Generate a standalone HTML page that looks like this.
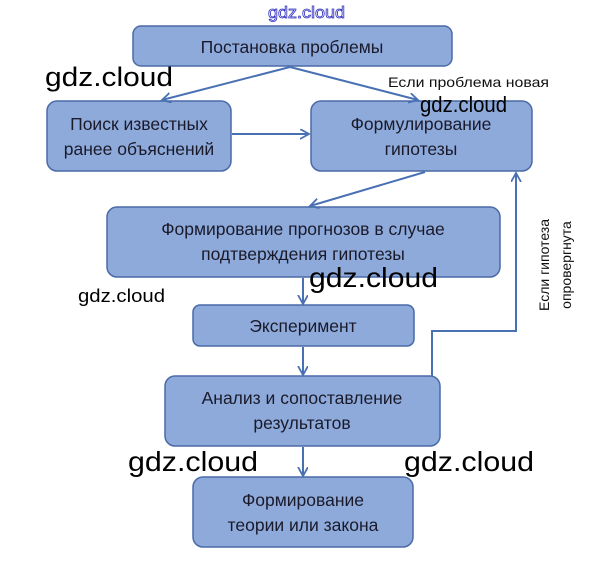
<!DOCTYPE html>
<html><head><meta charset="utf-8"><style>
html,body{margin:0;padding:0;background:#fff;}
svg{display:block;}
.b{fill:#8eaadb;stroke:#4a6aa8;stroke-width:1.5;}
.t{font-family:"Liberation Sans",sans-serif;font-size:17.5px;fill:#1a1a2a;text-anchor:middle;}
.l{stroke:#4a70b4;stroke-width:2;fill:none;}
.w{font-family:"Liberation Sans",sans-serif;fill:#000;}
</style></head><body>
<svg width="612" height="580" viewBox="0 0 612 580" xmlns="http://www.w3.org/2000/svg">
<defs><marker id="a" markerWidth="12" markerHeight="12" refX="9" refY="5" orient="auto" markerUnits="userSpaceOnUse"><path d="M0,0 L9,5 L0,10" fill="none" stroke="#4a70b4" stroke-width="1.8"/></marker></defs>
<text x="268" y="18" font-family="Liberation Sans,sans-serif" font-size="17" fill="#fff" stroke="#3030c0" stroke-width="0.8" textLength="77" lengthAdjust="spacingAndGlyphs">gdz.cloud</text>
<rect class="b" x="133" y="26" width="319" height="40" rx="8"/>
<text class="t" x="292" y="53">Постановка проблемы</text>
<rect class="b" x="47" y="101" width="184" height="70" rx="10"/>
<text class="t" x="139" y="130">Поиск известных</text><text class="t" x="139" y="155">ранее объяснений</text>
<rect class="b" x="311" y="101" width="221" height="70" rx="10"/>
<text class="t" x="421" y="130">Формулирование</text><text class="t" x="421" y="155">гипотезы</text>
<rect class="b" x="107" y="207" width="393" height="70" rx="10"/>
<text class="t" x="303" y="235">Формирование прогнозов в случае</text><text class="t" x="303" y="260">подтверждения гипотезы</text>
<rect class="b" x="193" y="305" width="221" height="41" rx="7"/>
<text class="t" x="303" y="332">Эксперимент</text>
<rect class="b" x="165" y="376" width="275" height="70" rx="10"/>
<text class="t" x="302" y="404">Анализ и сопоставление</text><text class="t" x="302" y="429">результатов</text>
<rect class="b" x="193" y="477" width="220" height="70" rx="10"/>
<text class="t" x="303" y="506">Формирование</text><text class="t" x="303" y="531">теории или закона</text>
<line class="l" x1="290" y1="67" x2="162" y2="100" marker-end="url(#a)"/>
<line class="l" x1="290" y1="67" x2="418" y2="100" marker-end="url(#a)"/>
<line class="l" x1="232" y1="134" x2="309" y2="134" marker-end="url(#a)"/>
<line class="l" x1="425" y1="172" x2="310" y2="206" marker-end="url(#a)"/>
<line class="l" x1="303" y1="278" x2="303" y2="304" marker-end="url(#a)"/>
<line class="l" x1="303" y1="347" x2="303" y2="375" marker-end="url(#a)"/>
<line class="l" x1="303" y1="447" x2="303" y2="476" marker-end="url(#a)"/>
<polyline class="l" points="432,376 432,331 516,331 516,173" marker-end="url(#a)"/>
<text x="388" y="87" font-family="Liberation Sans,sans-serif" font-size="14" fill="#111" textLength="161" lengthAdjust="spacingAndGlyphs">Если проблема новая</text>
<text transform="translate(549,265) rotate(-90)" font-family="Liberation Sans,sans-serif" font-size="14" fill="#111" text-anchor="middle">Если гипотеза</text>
<text transform="translate(571,265) rotate(-90)" font-family="Liberation Sans,sans-serif" font-size="14" fill="#111" text-anchor="middle">опровергнута</text>
<text class="w" x="45" y="86" font-size="27" textLength="128" lengthAdjust="spacingAndGlyphs">gdz.cloud</text>
<text class="w" x="420" y="112" font-size="22" textLength="87" lengthAdjust="spacingAndGlyphs">gdz.cloud</text>
<text class="w" x="309" y="287" font-size="28" textLength="129" lengthAdjust="spacingAndGlyphs">gdz.cloud</text>
<text class="w" x="78" y="302" font-size="18" textLength="87" lengthAdjust="spacingAndGlyphs">gdz.cloud</text>
<text class="w" x="128" y="471" font-size="28" textLength="130" lengthAdjust="spacingAndGlyphs">gdz.cloud</text>
<text class="w" x="404" y="471" font-size="28" textLength="130" lengthAdjust="spacingAndGlyphs">gdz.cloud</text>
</svg>
</body></html>
